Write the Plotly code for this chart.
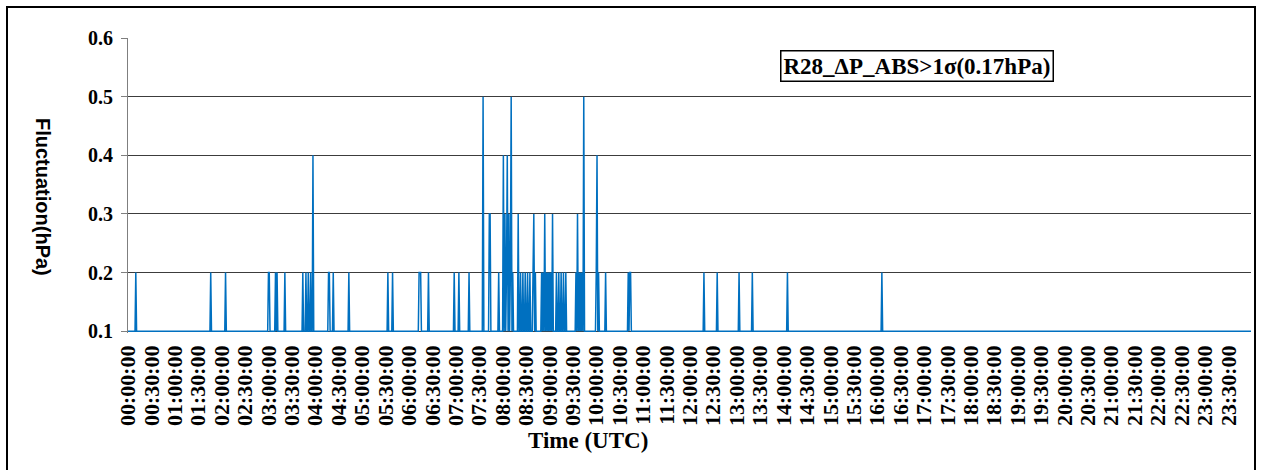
import plotly.graph_objects as go

# ---- data ----
# minutes of the day (0..1439), one sample per minute; baseline value 0.1
n_minutes = 1440
baseline_value = 0.1

spike_minutes = [
    10, 106, 125, 180, 181, 189, 191, 201, 224, 228, 231, 234, 237,
    257, 258, 263, 283, 333, 339, 373, 374, 375, 385,
    418, 424, 437, 455, 463, 464, 475,
    481, 483, 485, 486, 488, 490, 491, 493,
    500, 503, 506, 509, 512, 515, 519, 520, 522,
    530, 532, 534, 536, 538, 540, 542, 544,
    549, 552, 555, 558, 561,
    574, 576, 578, 580, 582, 584,
    600, 601, 603, 612, 641, 643, 644,
    738, 755, 783, 800, 845, 966,
]
spike_values = [
    0.2, 0.2, 0.2, 0.2, 0.2, 0.2, 0.2, 0.2, 0.2, 0.2, 0.2, 0.2, 0.4,
    0.2, 0.2, 0.2, 0.2, 0.2, 0.2, 0.2, 0.2, 0.2, 0.2,
    0.2, 0.2, 0.2, 0.5, 0.3, 0.3, 0.2,
    0.4, 0.3, 0.2, 0.4, 0.3, 0.2, 0.5, 0.2,
    0.3, 0.2, 0.2, 0.2, 0.2, 0.2, 0.2, 0.3, 0.2,
    0.2, 0.2, 0.3, 0.2, 0.2, 0.2, 0.2, 0.3,
    0.2, 0.2, 0.2, 0.2, 0.2,
    0.2, 0.3, 0.2, 0.2, 0.2, 0.5,
    0.2, 0.4, 0.2, 0.2, 0.2, 0.2, 0.2,
    0.2, 0.2, 0.2, 0.2, 0.2, 0.2,
]

tick_minutes = list(range(0, 1440, 30))
tick_labels = [
    "00:00:00", "00:30:00", "01:00:00", "01:30:00", "02:00:00", "02:30:00",
    "03:00:00", "03:30:00", "04:00:00", "04:30:00", "05:00:00", "05:30:00",
    "06:00:00", "06:30:00", "07:00:00", "07:30:00", "08:00:00", "08:30:00",
    "09:00:00", "09:30:00", "10:00:00", "10:30:00", "11:00:00", "11:30:00",
    "12:00:00", "12:30:00", "13:00:00", "13:30:00", "14:00:00", "14:30:00",
    "15:00:00", "15:30:00", "16:00:00", "16:30:00", "17:00:00", "17:30:00",
    "18:00:00", "18:30:00", "19:00:00", "19:30:00", "20:00:00", "20:30:00",
    "21:00:00", "21:30:00", "22:00:00", "22:30:00", "23:00:00", "23:30:00",
]

# ---- build the per-minute series ----
x_vals = list(range(n_minutes))
y_vals = [baseline_value] * n_minutes
for m, v in zip(spike_minutes, spike_values):
    y_vals[m] = v

SERIF = "Liberation Serif, Times New Roman, serif"

fig = go.Figure()
fig.add_trace(go.Scatter(
    x=x_vals, y=y_vals, mode="lines",
    line=dict(color="#0070C0", width=1.5),
    hoverinfo="x+y", showlegend=False,
))

L, R, T, B = 128, 10, 38, 137
W, H = 1261, 470
pw = W - L - R
ph = H - T - B

fig.update_layout(
    width=W, height=H,
    margin=dict(l=L, r=R, t=T, b=B, pad=0),
    paper_bgcolor="white", plot_bgcolor="white",
    xaxis=dict(
        range=[0, n_minutes - 1],
        tickmode="array", tickvals=tick_minutes, ticktext=tick_labels,
        tickangle=-90,
        tickfont=dict(family=SERIF, size=22, color="black", weight="bold"),
        showgrid=False, showline=False, zeroline=False, ticks="",
        ticklabelstandoff=7,
    ),
    yaxis=dict(
        range=[0.097, 0.6],
        tickmode="array", tickvals=[0.1, 0.2, 0.3, 0.4, 0.5, 0.6],
        ticktext=["0.1", "0.2", "0.3", "0.4", "0.5", "0.6"],
        tickfont=dict(family=SERIF, size=20, color="black", weight="bold"),
        showgrid=True, gridcolor="#3c3c3c", gridwidth=1,
        showline=True, linecolor="#7f7f7f", linewidth=1,
        ticks="outside", ticklen=6, tickcolor="#7f7f7f",
        zeroline=False, ticklabelstandoff=4,
    ),
    font=dict(family=SERIF, color="black"),
)

def px_x(px):
    return (px - L) / pw

def px_y(py):
    return (H - B - py) / ph

# axis titles
fig.add_annotation(
    xref="paper", yref="paper", x=px_x(43), y=px_y(197),
    text="<b>Fluctuation(hPa)</b>", textangle=90, showarrow=False,
    font=dict(family="Liberation Sans, Arial, sans-serif", size=20, color="black"),
    xanchor="center", yanchor="middle",
)
fig.add_annotation(
    xref="paper", yref="paper", x=px_x(588), y=px_y(440),
    text="<b>Time (UTC)</b>", showarrow=False,
    font=dict(family=SERIF, size=23, color="black"),
    xanchor="center", yanchor="middle",
)
# legend-like label box
fig.add_annotation(
    xref="paper", yref="paper", x=px_x(917), y=px_y(66),
    text="<b>R28_\u0394P_ABS>1\u03c3(0.17hPa)</b>", showarrow=False,
    font=dict(family=SERIF, size=23, color="black"),
    bordercolor="black", borderwidth=1.5, borderpad=2, bgcolor="white",
    xanchor="center", yanchor="middle",
)
# outer frame
fig.add_shape(
    type="rect", xref="paper", yref="paper",
    x0=px_x(7), x1=px_x(1255), y0=px_y(475), y1=px_y(7),
    line=dict(color="black", width=2), fillcolor="rgba(0,0,0,0)", layer="above",
)

fig.write_html("out.html")
